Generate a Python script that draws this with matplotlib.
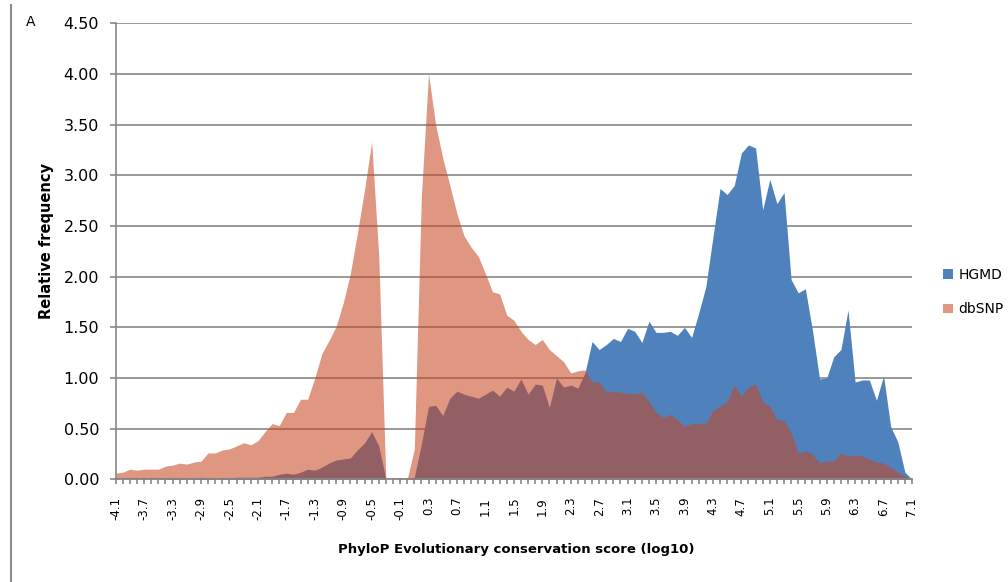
import numpy as np
import matplotlib
matplotlib.use('Agg')
import matplotlib.pyplot as plt
from matplotlib.lines import Line2D
from matplotlib.ticker import StrMethodFormatter

# PhyloP score bins, -4.1 .. 7.1 in steps of 0.1
scores = np.round(np.arange(-41, 72) / 10, 1)

hgmd = [0.00, 0.00, 0.00, 0.00, 0.00, 0.00, 0.00, 0.00, 0.02, 0.01,
        0.00, 0.01, 0.02, 0.01, 0.00, 0.01, 0.01, 0.02, 0.02, 0.02,
        0.02, 0.03, 0.03, 0.05, 0.06, 0.05, 0.07, 0.10, 0.09, 0.12,
        0.16, 0.19, 0.20, 0.21, 0.29, 0.36, 0.47, 0.33, 0.00, 0.00,
        0.00, 0.00, 0.02, 0.35, 0.72, 0.73, 0.63, 0.80, 0.87, 0.84,
        0.82, 0.80, 0.84, 0.88, 0.82, 0.91, 0.87, 0.99, 0.84, 0.94,
        0.93, 0.71, 1.00, 0.91, 0.93, 0.90, 1.05, 1.36, 1.28, 1.33,
        1.39, 1.36, 1.49, 1.46, 1.35, 1.56, 1.45, 1.45, 1.46, 1.42,
        1.50, 1.40, 1.64, 1.90, 2.39, 2.87, 2.81, 2.90, 3.22, 3.30,
        3.27, 2.66, 2.96, 2.72, 2.83, 1.97, 1.84, 1.88, 1.47, 0.99,
        1.00, 1.21, 1.28, 1.67, 0.96, 0.98, 0.98, 0.78, 1.02, 0.52,
        0.37, 0.07, 0.00]

dbsnp = [0.06, 0.07, 0.10, 0.09, 0.10, 0.10, 0.10, 0.13, 0.14, 0.16,
         0.15, 0.17, 0.18, 0.26, 0.26, 0.29, 0.30, 0.33, 0.36, 0.34,
         0.38, 0.47, 0.55, 0.53, 0.66, 0.66, 0.79, 0.79, 1.00, 1.24,
         1.37, 1.51, 1.74, 2.03, 2.43, 2.86, 3.33, 2.20, 0.00, 0.00,
         0.01, 0.00, 0.30, 2.80, 4.00, 3.50, 3.17, 2.90, 2.62, 2.40,
         2.29, 2.20, 2.03, 1.85, 1.83, 1.62, 1.57, 1.46, 1.38, 1.33,
         1.38, 1.28, 1.22, 1.16, 1.05, 1.07, 1.08, 0.96, 0.96, 0.86,
         0.87, 0.86, 0.85, 0.84, 0.86, 0.77, 0.66, 0.61, 0.64, 0.59,
         0.52, 0.55, 0.55, 0.55, 0.68, 0.72, 0.77, 0.93, 0.82, 0.91,
         0.94, 0.77, 0.72, 0.59, 0.58, 0.46, 0.26, 0.28, 0.25, 0.16,
         0.18, 0.18, 0.26, 0.23, 0.24, 0.23, 0.20, 0.17, 0.16, 0.12,
         0.07, 0.03, 0.00]

grey = '#878787'

fig = plt.figure(figsize=(10.08, 5.82), dpi=100)
ax = fig.add_axes([115.7 / 1008, 1 - 479.3 / 582, 796.3 / 1008, 456 / 582])

x = np.arange(len(scores))
ax.fill_between(x, hgmd, color='#4F81BD', lw=0, label='HGMD')
ax.fill_between(x, dbsnp, color='#C8461E', alpha=0.56, lw=0, label='dbSNP')

ax.set_xlim(0, len(scores) - 1)
ax.set_ylim(0, 4.5)
ax.set_yticks(np.arange(0, 4.51, 0.5))
ax.yaxis.set_major_formatter(StrMethodFormatter('{x:.2f}'))
ax.yaxis.grid(True, color=grey, lw=1.2)
ax.set_axisbelow(True)

ax.set_xticks(x)
ax.set_xticklabels([f'{s:.1f}' if i % 4 == 0 else '' for i, s in enumerate(scores)])

for side in ['top', 'right']:
    ax.spines[side].set_visible(False)
for side in ['left', 'bottom']:
    ax.spines[side].set_color(grey)
    ax.spines[side].set_linewidth(1.2)

ax.tick_params(axis='x', direction='out', length=3.6, width=1.2, color=grey,
               labelrotation=90, pad=9, labelsize=8.5)
ax.tick_params(axis='y', direction='out', length=4, width=1.2, color=grey,
               pad=8, labelsize=11.5)

ax.set_ylabel('Relative frequency', fontweight='bold', fontsize=10.5)
ax.yaxis.set_label_coords(-0.078, 0.523)
ax.set_xlabel('PhyloP Evolutionary conservation score (log10)', fontweight='bold', fontsize=9.5)
ax.xaxis.set_label_coords(0.503, -0.14)

ax.legend(loc='center left', bbox_to_anchor=(943 / 1008, 1 - 292 / 582),
          bbox_transform=fig.transFigure, frameon=False, fontsize=10,
          handlelength=0.7, handleheight=0.7, handletextpad=0.4,
          labelspacing=1.5, borderpad=0, borderaxespad=0)

# panel border and letter
fig.add_artist(Line2D([11 / 1008, 11 / 1008], [0, 1 - 5 / 582], color='#8c8c8c',
                      lw=1.5, transform=fig.transFigure))
fig.text(26 / 1008, 1 - 22 / 582, 'A', fontsize=10, va='center', ha='left')

fig.savefig('out.png', dpi=100)
